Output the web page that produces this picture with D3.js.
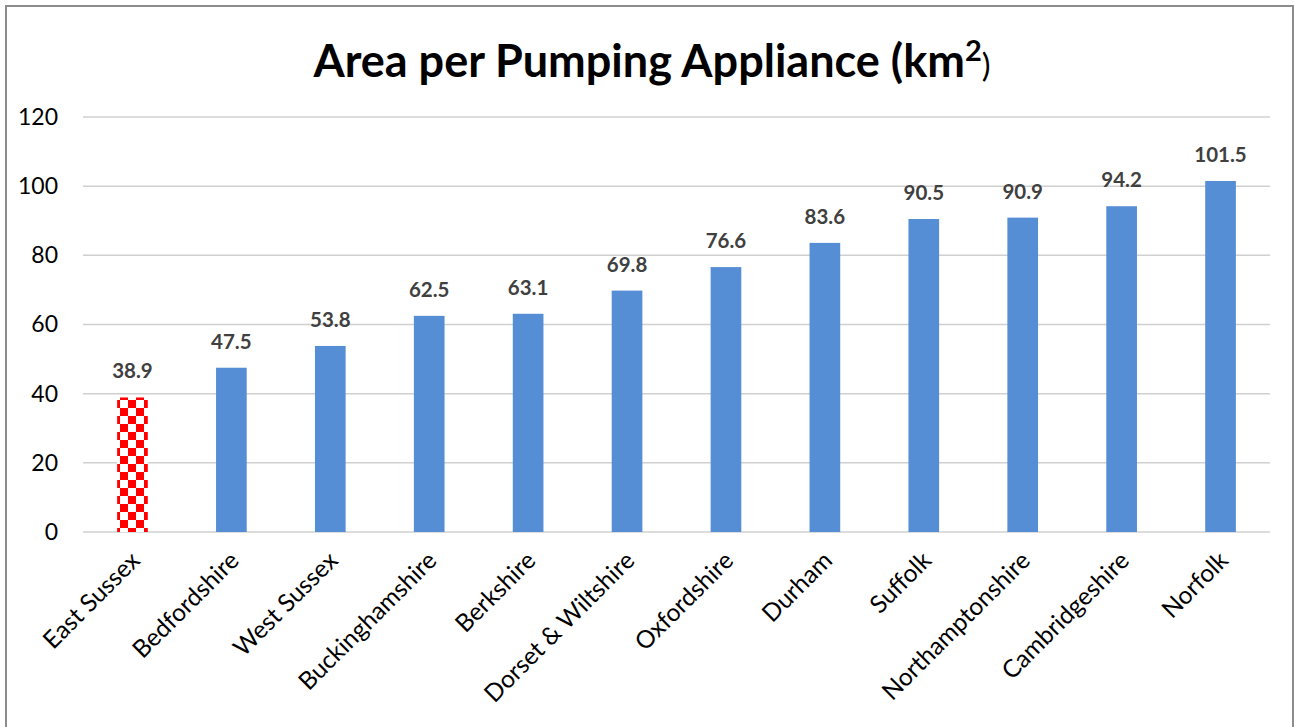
<!DOCTYPE html>
<html>
<head>
<meta charset="utf-8">
<script src="https://cdn.jsdelivr.net/npm/d3@7"></script>
<style>
  body { margin: 0; background: #fff; }
  svg { display: block; font-family: Lato, "Open Sans", sans-serif; }
</style>
</head>
<body>
<script>
// chart data
const counties = ["East Sussex", "Bedfordshire", "West Sussex", "Buckinghamshire", "Berkshire",
  "Dorset & Wiltshire", "Oxfordshire", "Durham", "Suffolk", "Northamptonshire", "Cambridgeshire", "Norfolk"];
const areaValues = [38.9, 47.5, 53.8, 62.5, 63.1, 69.8, 76.6, 83.6, 90.5, 90.9, 94.2, 101.5];
const yTicks = [0, 20, 40, 60, 80, 100, 120];
const highlighted = "East Sussex";

const width = 1294, height = 727;
const margin = { top: 117, right: 24, bottom: 195, left: 83 };

const svg = d3.select("body").append("svg")
  .attr("width", width)
  .attr("height", height);

// checker pattern for the highlighted county
const defs = svg.append("defs");
const pat = defs.append("pattern")
  .attr("id", "checker")
  .attr("patternUnits", "userSpaceOnUse")
  .attr("width", 16).attr("height", 16);
pat.append("rect").attr("width", 16).attr("height", 16).attr("fill", "#fff");
pat.append("rect").attr("width", 8).attr("height", 8).attr("fill", "#ff0000");
pat.append("rect").attr("x", 8).attr("y", 8).attr("width", 8).attr("height", 8).attr("fill", "#ff0000");

// outer border
svg.append("rect")
  .attr("x", 6).attr("y", 6)
  .attr("width", 1287).attr("height", 730)
  .attr("fill", "none")
  .attr("stroke", "#8c8c8c")
  .attr("stroke-width", 2);

const x = d3.scaleBand()
  .domain(counties)
  .range([margin.left, width - margin.right])
  .paddingInner(0.69)
  .paddingOuter(0.345);

const y = d3.scaleLinear()
  .domain([0, 120])
  .range([height - margin.bottom, margin.top]);

// title
const title = svg.append("text")
  .attr("x", 652).attr("y", 77)
  .attr("text-anchor", "middle")
  .attr("font-size", 45)
  .attr("font-weight", "bold")
  .attr("fill", "#000");
title.append("tspan").text("Area per Pumping Appliance (km");
title.append("tspan").attr("font-size", 29).attr("dy", -16).text("2");
title.append("tspan").attr("font-size", 33).attr("font-weight", "normal").attr("dy", 16).text(")");

// gridlines + y axis
const yAxis = d3.axisLeft(y).tickValues(yTicks).tickSize(0).tickPadding(25);
const gy = svg.append("g")
  .attr("transform", `translate(${margin.left},0)`)
  .call(yAxis);
gy.select(".domain").remove();
gy.selectAll("text").attr("font-size", 23).attr("fill", "#000").attr("font-family", "Lato, sans-serif");

svg.append("g").selectAll("line")
  .data(yTicks)
  .join("line")
  .attr("x1", margin.left)
  .attr("x2", width - margin.right)
  .attr("y1", d => y(d))
  .attr("y2", d => y(d))
  .attr("stroke", "#d0d0d0")
  .attr("stroke-width", 1.5);

// bars
svg.append("g").selectAll("rect")
  .data(counties)
  .join("rect")
  .attr("x", d => x(d))
  .attr("width", x.bandwidth())
  .attr("y", (d, i) => y(areaValues[i]))
  .attr("height", (d, i) => y(0) - y(areaValues[i]))
  .attr("fill", d => d === highlighted ? "url(#checker)" : "#558ed5");

// value labels
svg.append("g").selectAll("text")
  .data(counties)
  .join("text")
  .attr("x", d => x(d) + x.bandwidth() / 2)
  .attr("y", (d, i) => y(areaValues[i]) - 19)
  .attr("text-anchor", "middle")
  .attr("font-size", 20.5)
  .attr("font-weight", "bold")
  .attr("fill", "#404040")
  .text((d, i) => areaValues[i].toFixed(1));

// x axis labels
const xAxis = d3.axisBottom(x).tickSize(0).tickPadding(0);
const gx = svg.append("g")
  .attr("transform", `translate(0,${y(0)})`)
  .call(xAxis);
gx.select(".domain").remove();
gx.selectAll("text")
  .attr("font-size", 24.5)
  .attr("fill", "#000")
  .attr("font-family", "Lato, sans-serif")
  .attr("text-anchor", "end")
  .attr("dy", 0)
  .attr("transform", "translate(9,30) rotate(-45)");
</script>
</body>
</html>
